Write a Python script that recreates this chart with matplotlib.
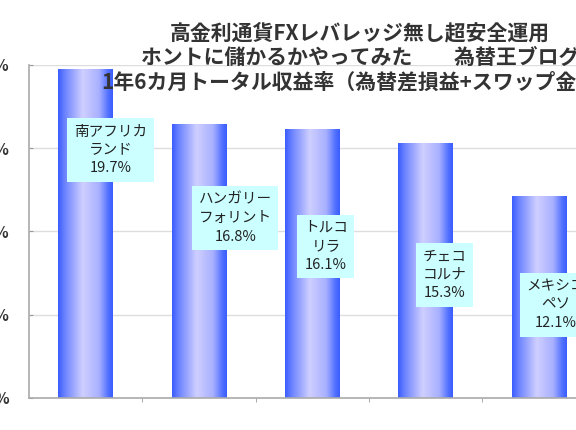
import matplotlib
matplotlib.use('Agg')
import matplotlib.pyplot as plt
import numpy as np
from matplotlib.colors import LinearSegmentedColormap

plt.rcParams['font.family'] = ['Noto Sans CJK JP', 'DejaVu Sans']

# データ
currencies = ['南アフリカ\nランド', 'ハンガリー\nフォリント', 'トルコ\nリラ',
              'チェコ\nコルナ', 'メキシコ\nペソ']
returns = [19.7, 16.4, 16.1, 15.3, 12.1]
value_labels = ['19.7%', '16.8%', '16.1%', '15.3%', '12.1%']
yticks = [0, 5, 10, 15, 20]
title_lines = ['高金利通貨FXレバレッジ無し超安全運用',
               'ホントに儲かるかやってみた　　為替王ブログ',
               '1年6カ月トータル収益率（為替差損益+スワップ金利）']

# ラベル位置（バー中心からのずれ, 高さ）
label_pos = [(0.22, 14.9), (0.32, 10.8), (0.12, 9.1), (0.17, 7.4), (0.15, 5.6)]

fig = plt.figure(figsize=(5.76, 4.30), dpi=100)
ax = fig.add_axes([29/576, 32/430, 680/576, 333/430])

x = np.arange(len(returns))
width = 0.485
bars = ax.bar(x, returns, width, color='none', edgecolor='none', zorder=2)

# 横方向グラデーション
cmap = LinearSegmentedColormap.from_list(
    'barg', [(0.0, '#3a5cff'), (0.12, '#6a82ff'), (0.45, '#cfcfff'),
             (0.75, '#a8b0ff'), (0.92, '#5070ff'), (1.0, '#3a5cff')])
grad = np.linspace(0, 1, 256).reshape(1, -1)
for b in bars:
    x0, w, h = b.get_x(), b.get_width(), b.get_height()
    ax.imshow(grad, extent=[x0, x0 + w, 0, h], aspect='auto', cmap=cmap,
              zorder=2, interpolation='bicubic')

# ラベルボックス
for i, (txt, val) in enumerate(zip(currencies, value_labels)):
    dx, yy = label_pos[i]
    ax.text(x[i] + dx, yy, txt + '\n' + val, ha='center', va='center',
            fontsize=10.5, color='#222222', linespacing=1.4, zorder=4,
            bbox=dict(boxstyle='square,pad=0.45', facecolor='#ccffff',
                      edgecolor='none'))

ax.set_xlim(-0.5, 5.5)
ax.set_ylim(0, 20)
ax.set_yticks(yticks)
ax.set_yticklabels([f'{v}%' for v in yticks], fontsize=11, fontweight='bold',
                   color='#333333')
ax.tick_params(axis='y', direction='in', length=3, color='#999999', pad=14)
ax.set_xticks([])
ax.set_xticks(np.arange(0.5, 5.5, 1), minor=True)
ax.tick_params(axis='x', which='minor', direction='out', length=3,
               color='#999999')

ax.grid(True, axis='y', color='#dddddd', linewidth=1)
ax.set_axisbelow(True)
for s in ['top', 'right']:
    ax.spines[s].set_visible(False)
for s in ['left', 'bottom']:
    ax.spines[s].set_color('#aaaaaa')
    ax.spines[s].set_linewidth(1.2)

# タイトル
for line, yf in zip(title_lines, [1 - 33/430, 1 - 57/430, 1 - 82/430]):
    fig.text(360/576, yf, line, ha='center', va='center', fontsize=15,
             fontweight='bold', color='#333333')

fig.savefig('out.png', dpi=100, facecolor='white')
